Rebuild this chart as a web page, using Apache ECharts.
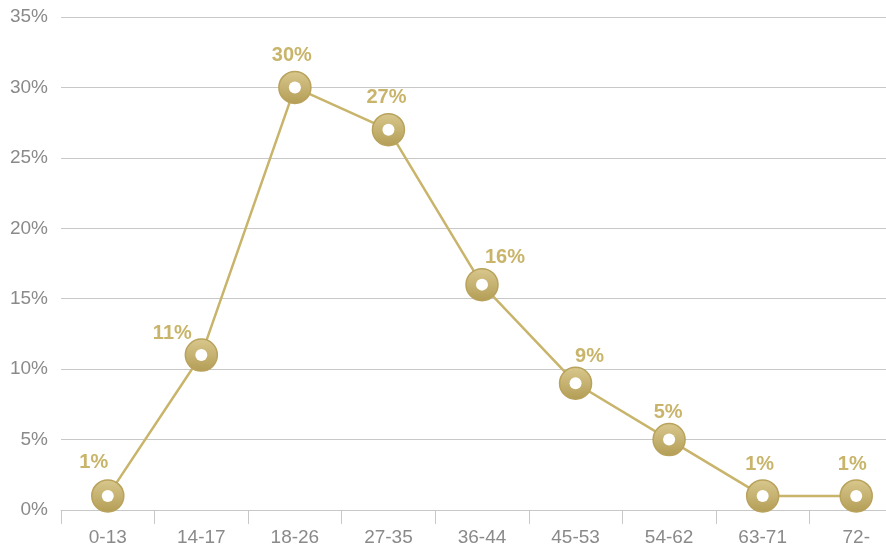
<!DOCTYPE html>
<html>
<head>
<meta charset="utf-8">
<script src="https://cdn.jsdelivr.net/npm/echarts@6/dist/echarts.min.js"></script>
<style>html,body{margin:0;padding:0;background:#fff}#c{width:886px;height:546px}</style>
</head>
<body>
<div id="c"></div>
<script>
var categories = ['0-13','14-17','18-26','27-35','36-44','45-53','54-62','63-71','72-'];
var values = [1, 11, 30, 27, 16, 9, 5, 1, 1];
var yTicks = [0, 5, 10, 15, 20, 25, 30, 35];
// label placement offsets (style only), in px relative to marker centre
var labelOffsets = [[-14,-33],[-29,-22],[-3,-32],[-2,-32],[23,-27],[14,-27],[-1,-27],[-3,-31],[-4,-31]];

var gold = '#c8b46a';
var font = 'Liberation Sans, Arial, sans-serif';
var lineData = values.map(function (v, i) {
  return {value: v, label: {offset: labelOffsets[i]}};
});
var chart = echarts.init(document.getElementById('c'), null, {renderer: 'canvas'});
chart.setOption({
  animation: false,
  backgroundColor: '#fff',
  grid: {left: 61, width: 842, top: 17, height: 493, containLabel: false, outerBoundsMode: 'none'},
  xAxis: {
    type: 'category',
    data: categories,
    boundaryGap: true,
    axisLine: {lineStyle: {color: '#c8c8c8', width: 1}},
    axisTick: {show: true, length: 14, lineStyle: {color: '#c8c8c8'}},
    axisLabel: {color: '#8a8a8a', fontSize: 19, fontFamily: font, margin: 18}
  },
  yAxis: {
    type: 'value',
    min: yTicks[0], max: yTicks[yTicks.length - 1], interval: 5,
    axisLine: {show: false},
    axisTick: {show: false},
    splitLine: {lineStyle: {color: '#c8c8c8', width: 1}},
    axisLabel: {color: '#8a8a8a', fontSize: 19, fontFamily: font, margin: 13, formatter: '{value}%'}
  },
  series: [{
    type: 'line',
    data: lineData,
    symbol: 'circle',
    symbolSize: 32,
    lineStyle: {color: gold, width: 2.5},
    itemStyle: {
      color: new echarts.graphic.LinearGradient(0, 0, 0, 1, [
        {offset: 0, color: '#d9c88e'},
        {offset: 1, color: '#b39d55'}
      ]),
      borderColor: '#b8a25c',
      borderWidth: 1.5
    },
    label: {
      show: true, position: 'inside',
      formatter: '{c}%', color: gold, fontSize: 20, fontWeight: 'bold',
      fontFamily: font
    },
    z: 2
  }, {
    type: 'line',
    data: values,
    symbol: 'circle',
    symbolSize: 12,
    lineStyle: {width: 0, opacity: 0},
    itemStyle: {color: '#ffffff', borderWidth: 0},
    label: {show: false},
    silent: true,
    z: 3
  }]
});
</script>
</body>
</html>
